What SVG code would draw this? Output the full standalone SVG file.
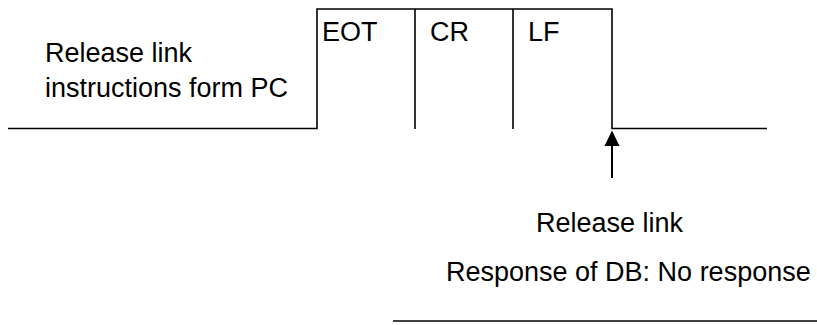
<svg xmlns="http://www.w3.org/2000/svg" width="817" height="325" viewBox="0 0 817 325">
  <style>
    .ln { fill: none; stroke: #000; stroke-width: 1.6; }
    .t { font-family: "Liberation Sans", Arial, sans-serif; font-size: 27px; fill: #000; }
  </style>
  <rect width="817" height="325" fill="#fff"/>
  <g id="signal">
    <polyline class="ln" points="8,128.5 317,128.5 317,9 612,9 612,128.5 767,128.5"/>
    <line class="ln" x1="415" y1="9" x2="415" y2="129"/>
    <line class="ln" x1="513" y1="9" x2="513" y2="129"/>
    <line class="ln" x1="393" y1="321" x2="817" y2="321"/>
  </g>
  <g id="fields">
    <text class="t" x="322" y="41">EOT</text>
    <text class="t" x="430" y="41">CR</text>
    <text class="t" x="528" y="41">LF</text>
  </g>
  <g id="left-label">
    <text class="t" x="45" y="62">Release link</text>
    <text class="t" x="45" y="97">instructions form PC</text>
  </g>
  <g id="connectors">
    <path d="M612,178 L612,146" stroke="#000" stroke-width="2" fill="none"/>
    <path d="M612,130.5 L619.5,146 L604.5,146 Z" fill="#000"/>
  </g>
  <g id="bottom-label">
    <text class="t" x="536" y="232">Release link</text>
    <text class="t" x="446" y="281">Response of DB: No response</text>
  </g>
</svg>
